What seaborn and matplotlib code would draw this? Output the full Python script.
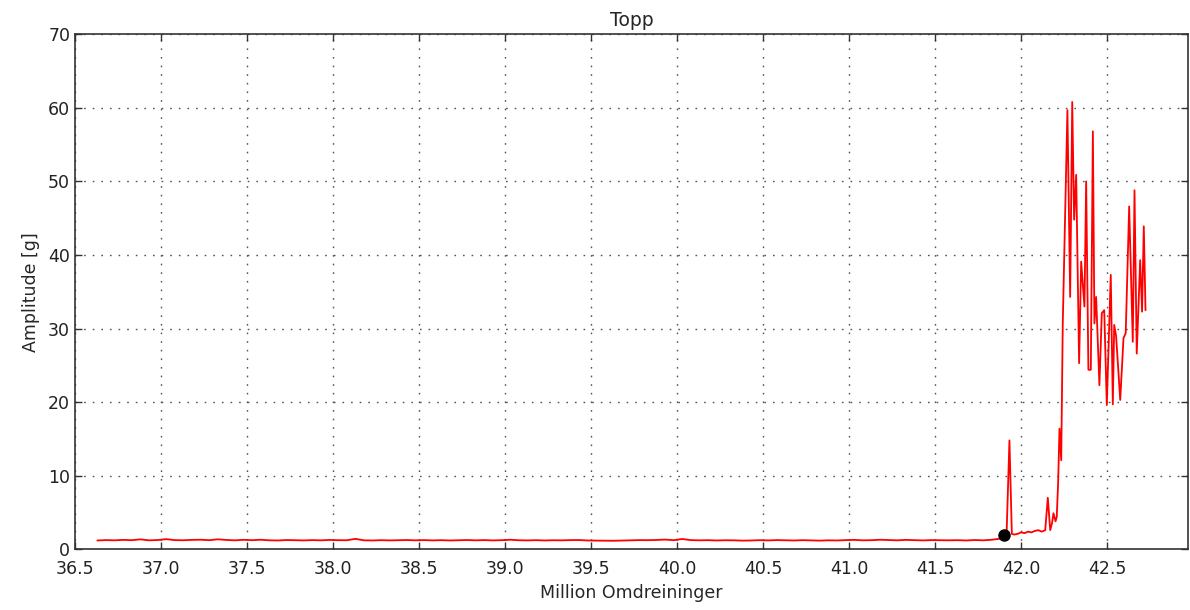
import matplotlib
matplotlib.use("Agg")
import matplotlib.pyplot as plt
import seaborn as sns
import pandas as pd

# --- data -------------------------------------------------------------
base_x = [
    36.63, 36.68, 36.73, 36.78, 36.83, 36.88, 36.93, 36.98, 37.03, 37.08,
    37.13, 37.18, 37.23, 37.28, 37.33, 37.38, 37.43, 37.48, 37.53, 37.58,
    37.63, 37.68, 37.73, 37.78, 37.83, 37.88, 37.93, 37.98, 38.03, 38.08,
    38.13, 38.18, 38.23, 38.28, 38.33, 38.38, 38.43, 38.48, 38.53, 38.58,
    38.63, 38.68, 38.73, 38.78, 38.83, 38.88, 38.93, 38.98, 39.03, 39.08,
    39.13, 39.18, 39.23, 39.28, 39.33, 39.38, 39.43, 39.48, 39.53, 39.58,
    39.63, 39.68, 39.73, 39.78, 39.83, 39.88, 39.93, 39.98, 40.03, 40.08,
    40.13, 40.18, 40.23, 40.28, 40.33, 40.38, 40.43, 40.48, 40.53, 40.58,
    40.63, 40.68, 40.73, 40.78, 40.83, 40.88, 40.93, 40.98, 41.03, 41.08,
    41.13, 41.18, 41.23, 41.28, 41.33, 41.38, 41.43, 41.48, 41.53, 41.58,
    41.63, 41.68, 41.73, 41.78, 41.83, 41.88,
]
base_y = [
    1.20, 1.25, 1.22, 1.28, 1.24, 1.35, 1.22, 1.26, 1.38, 1.25,
    1.23, 1.28, 1.30, 1.24, 1.36, 1.27, 1.22, 1.29, 1.24, 1.30,
    1.22, 1.20, 1.26, 1.23, 1.21, 1.25, 1.22, 1.27, 1.24, 1.23,
    1.42, 1.22, 1.20, 1.24, 1.21, 1.23, 1.26, 1.22, 1.25, 1.21,
    1.24, 1.20, 1.23, 1.26, 1.22, 1.25, 1.21, 1.24, 1.30, 1.23,
    1.21, 1.24, 1.20, 1.23, 1.22, 1.25, 1.26, 1.20, 1.18, 1.17,
    1.16, 1.19, 1.22, 1.25, 1.24, 1.27, 1.32, 1.24, 1.40, 1.25,
    1.22, 1.24, 1.20, 1.23, 1.22, 1.18, 1.20, 1.24, 1.21, 1.25,
    1.22, 1.20, 1.24, 1.21, 1.18, 1.22, 1.20, 1.25, 1.28, 1.22,
    1.24, 1.30, 1.26, 1.22, 1.28, 1.24, 1.21, 1.25, 1.23, 1.22,
    1.24, 1.20, 1.26, 1.22, 1.30, 1.45,
]
fail_x = [
    41.900, 41.915, 41.932, 41.946, 41.960, 41.980, 42.000, 42.020, 42.040,
    42.060, 42.080, 42.100, 42.120, 42.140, 42.155, 42.169, 42.180, 42.188,
    42.200, 42.207, 42.215, 42.223, 42.233, 42.242, 42.255, 42.269, 42.285,
    42.297, 42.308, 42.320, 42.337, 42.349, 42.368, 42.378, 42.391, 42.405,
    42.417, 42.426, 42.436, 42.455, 42.469, 42.483, 42.498, 42.521, 42.533,
    42.541, 42.552, 42.576, 42.595, 42.608, 42.628, 42.649, 42.659, 42.672,
    42.692, 42.703, 42.713, 42.723,
]
fail_y = [
    1.6, 1.8, 14.8, 2.1, 2.0, 2.1, 2.3, 2.2, 2.4,
    2.3, 2.5, 2.6, 2.4, 2.6, 7.0, 2.6, 3.6, 4.9,
    3.8, 4.4, 9.0, 16.4, 12.1, 30.7, 45.0, 59.7, 34.3,
    60.8, 44.8, 50.9, 25.3, 39.1, 33.0, 50.0, 24.4, 24.4,
    56.8, 30.7, 34.3, 22.3, 32.1, 32.5, 19.6, 37.3, 19.7,
    30.5, 29.0, 20.3, 28.7, 29.4, 46.6, 28.2, 48.8, 26.6,
    39.3, 32.3, 43.9, 32.5,
]
marker_x = [41.90]
marker_y = [2.0]

title = "Topp"
xlabel = "Million Omdreininger"
ylabel = "Amplitude [g]"
xticks = [36.5, 37.0, 37.5, 38.0, 38.5, 39.0, 39.5, 40.0, 40.5, 41.0, 41.5, 42.0, 42.5]
yticks = [0, 10, 20, 30, 40, 50, 60, 70]

# --- style ------------------------------------------------------------
sns.set_style("ticks", {
    "axes.grid": True,
    "axes.edgecolor": "#333333",
    "xtick.direction": "in",
    "ytick.direction": "in",
})
plt.rcParams["font.family"] = ["DejaVu Sans"]
plt.rcParams["font.size"] = 12.5

df = pd.DataFrame({"x": base_x + fail_x, "y": base_y + fail_y})

fig = plt.figure(figsize=(11.9, 6.1), dpi=100)
ax = fig.add_axes([75 / 1190, 1 - 549.3 / 610, (1188 - 75) / 1190, (549.3 - 34.3) / 610])

sns.lineplot(data=df, x="x", y="y", ax=ax, color="red", linewidth=1.3,
             sort=False, estimator=None)
ax.plot(marker_x, marker_y, "o", color="black", markersize=8, zorder=5)

ax.set_xlim(36.5, 42.97)
ax.set_ylim(0, 70)
ax.set_xticks(xticks)
ax.set_xticklabels([f"{t:.1f}" for t in xticks])
ax.set_yticks(yticks)
ax.grid(True, color="#555555", linestyle=(0, (1.2, 5)), linewidth=1.0)
ax.tick_params(axis="both", direction="in", top=True, right=True, length=5, width=1,
               labelsize=12.5, colors="#333333", labelcolor="#222222")
ax.tick_params(axis="x", pad=8)
for s in ax.spines.values():
    s.set_linewidth(1.2)
    s.set_color("#333333")

ax.set_title(title, fontsize=13.5, pad=6)
ax.set_xlabel(xlabel, fontsize=12.5, labelpad=4)
ax.set_ylabel(ylabel, fontsize=12.5, labelpad=6)

fig.savefig("out.png", dpi=100)
